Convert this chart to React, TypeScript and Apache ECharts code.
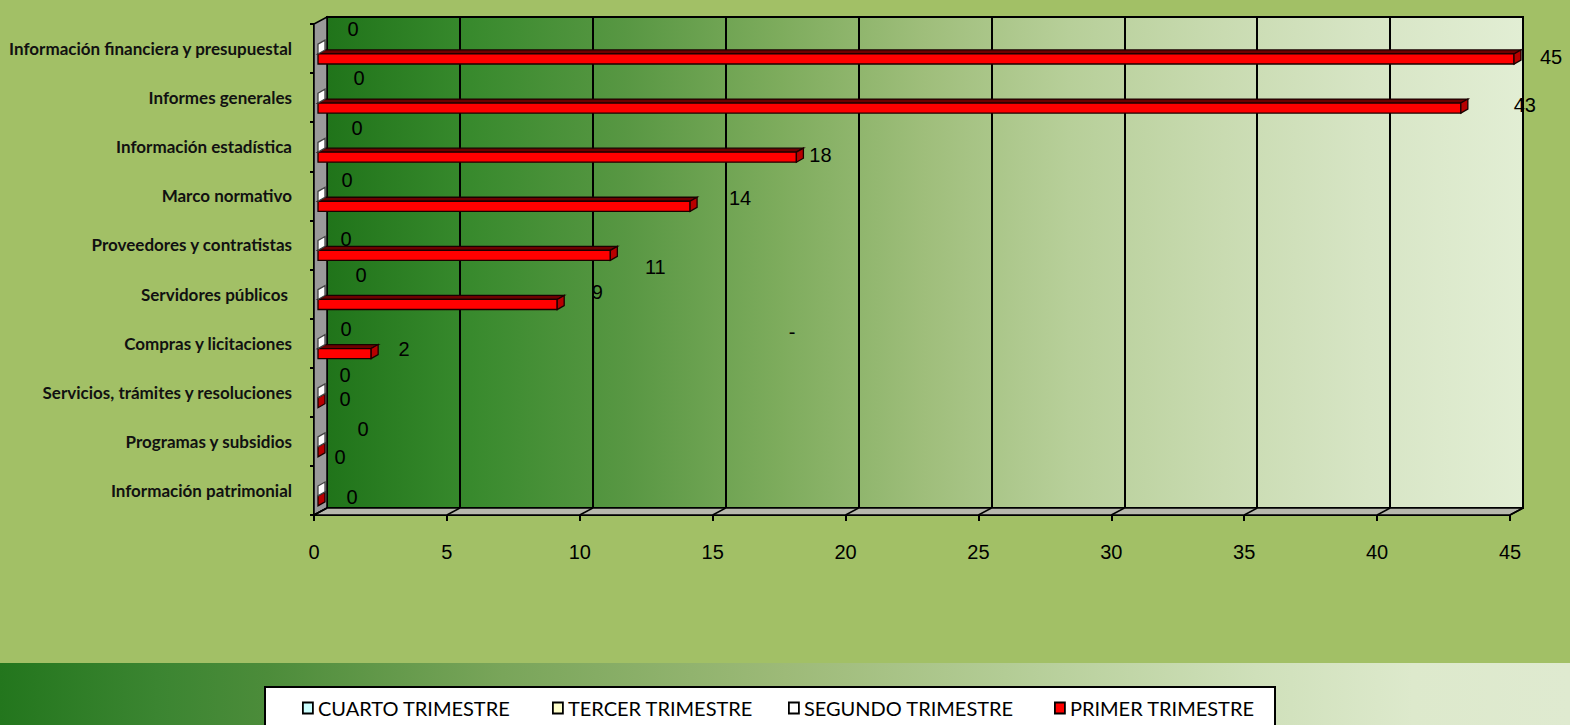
import React, { useEffect, useRef } from 'react';
import * as echarts from 'echarts';

// ---------- data ----------
const categories = [
  'Información financiera y presupuestal',
  'Informes generales',
  'Información estadística',
  'Marco normativo',
  'Proveedores y contratistas',
  'Servidores públicos ',
  'Compras y licitaciones',
  'Servicios, trámites y resoluciones',
  'Programas y subsidios',
  'Información patrimonial',
];
const primerTrimestre = [45, 43, 18, 14, 11, 9, 2, 0, 0, 0];
const segundoTrimestre = [0, 0, 0, 0, 0, 0, 0, 0, 0, 0];
const tercerTrimestre: (number | null)[] = [null, null, null, null, null, null, null, null, null, null];
const cuartoTrimestre: (number | null)[] = [null, null, null, null, null, null, null, null, null, null];
const xTicks = [0, 5, 10, 15, 20, 25, 30, 35, 40, 45];
const legendNames = ['CUARTO TRIMESTRE', 'TERCER TRIMESTRE', 'SEGUNDO TRIMESTRE', 'PRIMER TRIMESTRE'];

// ---------- layout (label nudges as placed in the original) ----------
const primerLabelNudge: ([number, number] | null)[] = [
  [37, -2], [64, -3], [24, -2], [50, -8], [45, 12], [40, -12], [33, -5], [27, -4], [22, 5], [34, -4],
];
const segundoLabelNudge: ([number, number] | null)[] = [
  [35, -20], [41, -20], [39, -19], [29, -16], [28, -6], [43, -20], [28, -15], [27, -18], [45, -13], null,
];
const legendLefts = [302, 552, 788, 1054];
const DEPTH: [number, number] = [13, -7];
const BAR_SHIFT = 4;
const BAR_DEPTH: [number, number] = [7, -4];
const LABEL_FONT = '20px "Liberation Sans", Arial, sans-serif';

function barRenderer(
  front: string,
  topC: string,
  side: string,
  stroke: string,
  f0: number,
  f1: number,
  nudges: ([number, number] | null)[]
) {
  return (params: any, api: any) => {
    const v = api.value(0);
    const i = api.value(1);
    const c = api.coord([v, i]);
    const c0 = api.coord([0, i]);
    const bh = api.size([0, 1])[1];
    const bandTop = c[1] - bh / 2;
    const top = bandTop + bh * f0;
    const bot = bandTop + bh * f1;
    const x0 = c0[0] + BAR_SHIFT;
    const x1 = c[0] + BAR_SHIFT;
    const [dx, dy] = BAR_DEPTH;
    const children: any[] = [];
    if (x1 > x0 + 0.5) {
      children.push({
        type: 'polygon',
        shape: { points: [[x0, top], [x0 + dx, top + dy], [x1 + dx, top + dy], [x1, top]] },
        style: { fill: topC, stroke, lineWidth: 1.3 },
      });
      children.push({
        type: 'rect',
        shape: { x: x0, y: top, width: x1 - x0, height: bot - top },
        style: { fill: front, stroke, lineWidth: 1.3 },
      });
    }
    children.push({
      type: 'polygon',
      shape: { points: [[x1, top], [x1 + dx, top + dy], [x1 + dx, bot + dy], [x1, bot]] },
      style: { fill: side, stroke, lineWidth: 1.3 },
    });
    const n = nudges[i];
    if (n) {
      children.push({
        type: 'text',
        z2: 10,
        style: {
          text: String(v),
          x: x1 + n[0],
          y: (top + bot) / 2 + n[1],
          fill: '#000',
          font: LABEL_FONT,
          align: 'center',
          verticalAlign: 'middle',
        },
      });
    }
    return { type: 'group', children };
  };
}

const toData = (vals: (number | null)[]) =>
  vals.flatMap((v, i) => (v == null ? [] : [[v, i]]));

export default function App() {
  const ref = useRef<HTMLDivElement>(null);
  useEffect(() => {
    if (!ref.current) return;
    const chart = echarts.init(ref.current, null, { renderer: 'svg' });

    const wallGrad = new echarts.graphic.LinearGradient(0, 0, 1, 0, [
      { offset: 0, color: '#20741a' },
      { offset: 0.12, color: '#388a2d' },
      { offset: 0.25, color: '#589743' },
      { offset: 0.38, color: '#7eac5d' },
      { offset: 0.5, color: '#9fbe7b' },
      { offset: 0.62, color: '#b7cf99' },
      { offset: 0.75, color: '#c9dbb1' },
      { offset: 0.87, color: '#d7e5c5' },
      { offset: 1, color: '#e2eed4' },
    ]);
    const bandGrad = new echarts.graphic.LinearGradient(0, 0, 1, 0, [
      { offset: 0, color: '#23761d' },
      { offset: 0.1, color: '#3b8531' },
      { offset: 0.17, color: '#4c8c3a' },
      { offset: 0.32, color: '#79a55a' },
      { offset: 0.5, color: '#9dba78' },
      { offset: 0.64, color: '#b3cc95' },
      { offset: 0.8, color: '#cfe0ba' },
      { offset: 0.9, color: '#dde9cc' },
      { offset: 1, color: '#dfead0' },
    ]);

    const colors: Record<string, string> = {
      'CUARTO TRIMESTRE': '#ccffff',
      'TERCER TRIMESTRE': '#ffffcc',
      'SEGUNDO TRIMESTRE': '#ffffff',
      'PRIMER TRIMESTRE': '#ff0000',
    };

    chart.setOption({
      animation: false,
      backgroundColor: '#a2c066',
      grid: [
        { left: 314, top: 24, right: 60, bottom: 210, containLabel: false, outerBoundsMode: 'none' },
        {
          left: 327, top: 17, right: 47, bottom: 217, containLabel: false, outerBoundsMode: 'none',
          show: true, backgroundColor: wallGrad, borderColor: '#000', borderWidth: 2,
        },
      ],
      xAxis: [
        {
          type: 'value', gridIndex: 0, min: 0, max: 45, interval: 5,
          axisLine: { show: true, lineStyle: { color: '#000', width: 2 } },
          axisTick: { show: true, length: 6, lineStyle: { color: '#000', width: 2 } },
          axisLabel: {
            margin: 27, color: '#000', fontSize: 20,
            fontFamily: '"Liberation Sans", Arial, sans-serif',
          },
          splitLine: { show: false },
        },
        {
          type: 'value', gridIndex: 1, min: 0, max: 45, interval: 5,
          axisLine: { show: false }, axisTick: { show: false }, axisLabel: { show: false },
          splitLine: { show: true, lineStyle: { color: '#000', width: 2 } },
        },
      ],
      yAxis: [
        {
          type: 'category', gridIndex: 0, data: categories, inverse: true,
          axisLine: { show: true, lineStyle: { color: '#000', width: 2 } },
          axisTick: { show: true, length: 4, lineStyle: { color: '#000', width: 2 } },
          axisLabel: {
            margin: 22, color: '#111', fontSize: 17, fontWeight: 'bold', fontFamily: 'Lato, sans-serif',
          },
          splitLine: { show: false },
        },
        { type: 'category', gridIndex: 1, data: categories, inverse: true, show: false },
      ],
      legend: legendNames.map((name, k) => ({
        data: [name],
        left: legendLefts[k],
        top: 698,
        padding: 0,
        itemWidth: 10,
        itemHeight: 11,
        icon: 'rect',
        selectedMode: false,
        itemStyle: { color: colors[name], borderColor: '#000', borderWidth: 1.8 },
        textStyle: { color: '#000', fontSize: 20, fontFamily: 'Lato, sans-serif' },
      })),
      graphic: [
        {
          type: 'rect', z: 0, silent: true,
          shape: { x: 0, y: 663, width: 1570, height: 62 },
          style: { fill: bandGrad },
        },
        {
          type: 'rect', z: 1, silent: true,
          shape: { x: 265, y: 687, width: 1010, height: 60 },
          style: { fill: '#fff', stroke: '#000', lineWidth: 2 },
        },
        {
          type: 'text', z: 5, silent: true, x: 792, y: 332,
          style: { text: '-', fill: '#000', font: LABEL_FONT, align: 'center', verticalAlign: 'middle' },
        },
      ],
      series: [
        {
          type: 'custom', name: 'walls', xAxisIndex: 0, yAxisIndex: 0, silent: true,
          data: [[0, 0]],
          renderItem: (params: any, api: any) => {
            const { x, y, width: w, height: h } = params.coordSys;
            const [dx, dy] = DEPTH;
            const kids: any[] = [
              {
                type: 'polygon',
                shape: { points: [[x, y], [x + dx, y + dy], [x + dx, y + h + dy], [x, y + h]] },
                style: { fill: '#9a9a9a', stroke: '#000', lineWidth: 1.5 },
              },
              {
                type: 'polygon',
                shape: { points: [[x, y + h], [x + dx, y + h + dy], [x + w + dx, y + h + dy], [x + w, y + h]] },
                style: { fill: '#b7b8ad', stroke: '#000', lineWidth: 1.5 },
              },
            ];
            xTicks.forEach((t) => {
              const px = api.coord([t, 0])[0];
              kids.push({
                type: 'line',
                shape: { x1: px, y1: y + h, x2: px + dx, y2: y + h + dy },
                style: { stroke: '#000', lineWidth: 1.5 },
              });
            });
            return { type: 'group', children: kids };
          },
        },
        {
          type: 'custom', name: 'PRIMER TRIMESTRE', xAxisIndex: 0, yAxisIndex: 0,
          itemStyle: { color: colors['PRIMER TRIMESTRE'] },
          encode: { x: 0, y: 1 },
          data: toData(primerTrimestre),
          renderItem: barRenderer('#ff0000', '#6e0000', '#b80000', '#1a0000', 0.61, 0.815, primerLabelNudge),
        },
        {
          type: 'custom', name: 'SEGUNDO TRIMESTRE', xAxisIndex: 0, yAxisIndex: 0,
          itemStyle: { color: colors['SEGUNDO TRIMESTRE'] },
          encode: { x: 0, y: 1 },
          data: toData(segundoTrimestre),
          renderItem: barRenderer('#ffffff', '#dddddd', '#ffffff', '#444444', 0.41, 0.61, segundoLabelNudge),
        },
        {
          type: 'custom', name: 'TERCER TRIMESTRE', xAxisIndex: 0, yAxisIndex: 0,
          itemStyle: { color: colors['TERCER TRIMESTRE'] },
          encode: { x: 0, y: 1 },
          data: toData(tercerTrimestre),
          renderItem: barRenderer('#ffffcc', '#dddd99', '#eeeeaa', '#444444', 0.21, 0.41, []),
        },
        {
          type: 'custom', name: 'CUARTO TRIMESTRE', xAxisIndex: 0, yAxisIndex: 0,
          itemStyle: { color: colors['CUARTO TRIMESTRE'] },
          encode: { x: 0, y: 1 },
          data: toData(cuartoTrimestre),
          renderItem: barRenderer('#ccffff', '#99dddd', '#aaeeee', '#444444', 0.01, 0.21, []),
        },
      ],
    });
    return () => chart.dispose();
  }, []);

  return (
    <div
      ref={ref}
      style={{ position: 'absolute', left: 0, top: 0, width: 1570, height: 725 }}
    />
  );
}
